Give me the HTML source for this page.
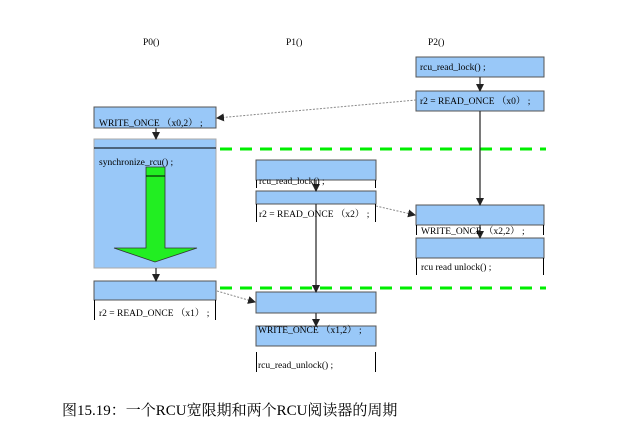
<!DOCTYPE html>
<html><head><meta charset="utf-8"><style>
body{margin:0;background:#fff;width:622px;height:438px;overflow:hidden}
svg text{font-family:"Liberation Serif","Noto Serif CJK SC",serif;font-size:9.5px;fill:#000}
</style></head><body>
<svg width="622" height="438" viewBox="0 0 622 438" xmlns="http://www.w3.org/2000/svg">
<defs>
<marker id="a" markerWidth="8" markerHeight="8" refX="7" refY="4" orient="auto" markerUnits="userSpaceOnUse"><path d="M0,0 L8,4 L0,8z" fill="#222"/></marker>
</defs>
<text x="143" y="45">P0()</text>
<text x="286" y="45">P1()</text>
<text x="428" y="45">P2()</text>
<g stroke="#555" stroke-width="1">
<!-- P2 -->
<rect x="416" y="57" width="128" height="20" fill="#99c8f8"/>
<rect x="416" y="91" width="128" height="20" fill="#99c8f8"/>
<!-- P0 -->
<rect x="94" y="107" width="122" height="21" fill="#99c8f8"/>
<rect x="94" y="139" width="122" height="129" fill="#99c8f8" stroke="#aaa"/>
<rect x="94" y="281" width="122" height="19" fill="#99c8f8"/>
<!-- P1 -->
<rect x="256" y="160" width="120" height="20" fill="#99c8f8"/>
<rect x="256" y="191" width="120" height="13" fill="#99c8f8"/>
<rect x="256" y="292" width="120" height="21" fill="#99c8f8"/>
<rect x="256" y="326" width="120" height="20" fill="#99c8f8"/>
<!-- P2 lower -->
<rect x="416" y="205" width="128" height="20" fill="#99c8f8"/>
<rect x="416" y="238" width="128" height="20" fill="#99c8f8"/>
</g>
<g stroke="#000" stroke-width="1">
<line x1="94" y1="148" x2="216" y2="148"/>
<line x1="94.5" y1="300" x2="94.5" y2="320"/><line x1="215.5" y1="300" x2="215.5" y2="320"/>
<line x1="256.5" y1="180" x2="256.5" y2="188"/><line x1="375.5" y1="180" x2="375.5" y2="188"/>
<line x1="256.5" y1="204" x2="256.5" y2="222"/><line x1="375.5" y1="204" x2="375.5" y2="222"/>
<line x1="256.5" y1="352" x2="256.5" y2="372"/><line x1="375.5" y1="352" x2="375.5" y2="372"/>
<line x1="416.5" y1="225" x2="416.5" y2="235"/><line x1="543.5" y1="225" x2="543.5" y2="235"/>
<line x1="416.5" y1="258" x2="416.5" y2="275"/><line x1="543.5" y1="258" x2="543.5" y2="275"/>
</g>
<!-- green arrow -->
<path d="M146,167 L165,167 L165,248 L197,248 L155,262 L114,248 L146,248 Z" fill="#22ee22" stroke="#333" stroke-width="0.8"/>
<line x1="146" y1="176" x2="165" y2="176" stroke="#000"/>
<!-- green dashed -->
<g stroke="#00ee00" stroke-width="3" stroke-dasharray="12,8">
<line x1="220" y1="149" x2="546" y2="149"/>
<line x1="220" y1="288" x2="546" y2="288"/>
</g>
<!-- solid arrows -->
<g stroke="#333" stroke-width="1.3" marker-end="url(#a)">
<line x1="480" y1="77" x2="480" y2="91"/>
<line x1="156" y1="128" x2="156" y2="139"/>
<line x1="156" y1="268" x2="156" y2="281"/>
<line x1="316" y1="180" x2="316" y2="191"/>
<line x1="316" y1="204" x2="316" y2="292"/>
<line x1="316" y1="313" x2="316" y2="326"/>
<line x1="480" y1="111" x2="480" y2="205"/>
<line x1="480" y1="225" x2="480" y2="238"/>
</g>
<g stroke="#888" stroke-width="1" stroke-dasharray="2,1.5" marker-end="url(#a)">
<line x1="416" y1="100" x2="217" y2="118"/>
<line x1="376" y1="206" x2="415" y2="215"/>
<line x1="217" y1="291" x2="255" y2="302"/>
</g>
<text x="420" y="70">rcu_read_lock() ;</text>
<text x="420" y="104">r2 = READ_ONCE （x0） ;</text>
<text x="99" y="126">WRITE_ONCE （x0,2） ;</text>
<text x="99" y="165">synchronize_rcu() ;</text>
<text x="99" y="316">r2 = READ_ONCE （x1） ;</text>
<text x="259" y="184">rcu_read_lock() ;</text>
<text x="259" y="217">r2 = READ_ONCE （x2） ;</text>
<text x="258" y="333">WRITE_ONCE （x1,2） ;</text>
<text x="258" y="368">rcu_read_unlock() ;</text>
<text x="421" y="234">WRITE_ONCE （x2,2） ;</text>
<text x="421" y="270">rcu read  unlock() ;</text>
<text x="62" y="415" style="font-size:15px">图15.19：一个RCU宽限期和两个RCU阅读器的周期</text>
</svg>
</body></html>
